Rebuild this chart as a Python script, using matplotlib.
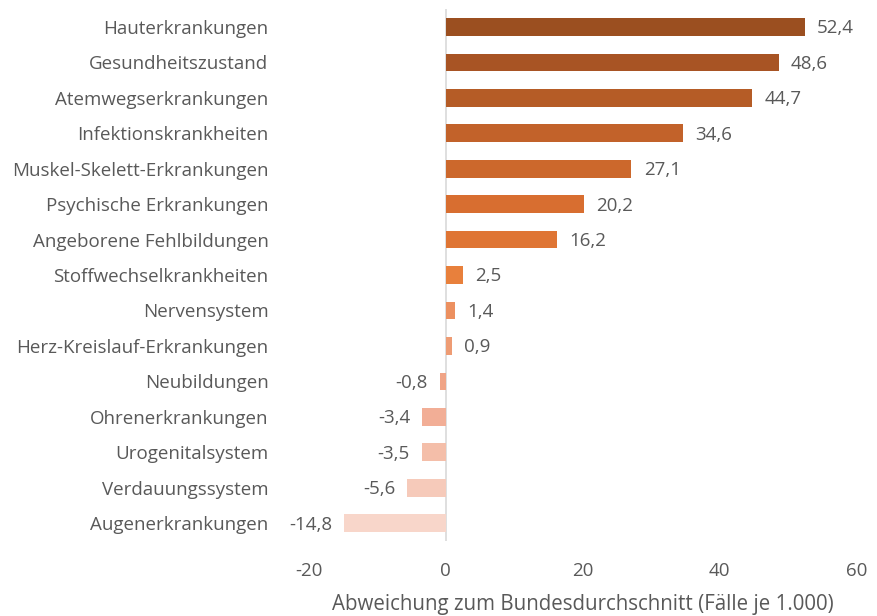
import numpy as np
import matplotlib.pyplot as plt

plt.rcParams['font.family'] = ['Open Sans', 'DejaVu Sans']
plt.rcParams['axes.unicode_minus'] = False

categories = ['Hauterkrankungen', 'Gesundheitszustand', 'Atemwegserkrankungen',
              'Infektionskrankheiten', 'Muskel-Skelett-Erkrankungen',
              'Psychische Erkrankungen', 'Angeborene Fehlbildungen',
              'Stoffwechselkrankheiten', 'Nervensystem', 'Herz-Kreislauf-Erkrankungen',
              'Neubildungen', 'Ohrenerkrankungen', 'Urogenitalsystem',
              'Verdauungssystem', 'Augenerkrankungen']
values = [52.4, 48.6, 44.7, 34.6, 27.1, 20.2, 16.2, 2.5, 1.4, 0.9,
          -0.8, -3.4, -3.5, -5.6, -14.8]
colors = ['#9B4F20', '#A85424', '#B55C26', '#C2622A', '#CC682C', '#D86E30',
          '#DF7534', '#E8803C', '#EC9060', '#EE9C74', '#F0A486', '#F2AE96',
          '#F4BEA9', '#F6CABA', '#F8D6CA']

txt = '#595959'
fs = 13.5

fig = plt.figure(figsize=(8.77, 6.16), dpi=100)
ax = fig.add_axes([0.352, 0.122, 0.625, 0.863])

y = np.arange(len(values))
ax.barh(y, values, height=0.5, color=colors)
ax.axvline(0, color='#D9D9D9', lw=1.2, zorder=0)

for yi, v in zip(y, values):
    lab = ('%.1f' % v).replace('.', ',')
    if v >= 0:
        ax.text(v + 1.8, yi + 0.04, lab, ha='left', va='center', fontsize=fs, color=txt)
    else:
        ax.text(v - 1.8, yi + 0.04, lab, ha='right', va='center', fontsize=fs, color=txt)

ax.set_xlim(-20, 60)
ax.set_ylim(len(values) - 0.5, -0.5)
ax.set_xticks([-20, 0, 20, 40, 60])
ax.set_yticks(y)
ax.set_yticklabels(categories)
ax.tick_params(axis='both', length=0, labelsize=fs, labelcolor=txt)
ax.tick_params(axis='y', pad=29)
ax.tick_params(axis='x', pad=15)
for s in ax.spines.values():
    s.set_visible(False)
ax.set_xlabel('Abweichung zum Bundesdurchschnitt (Fälle je 1.000)', fontsize=14.8,
              color=txt, labelpad=10)

fig.savefig('out.png', dpi=100)
